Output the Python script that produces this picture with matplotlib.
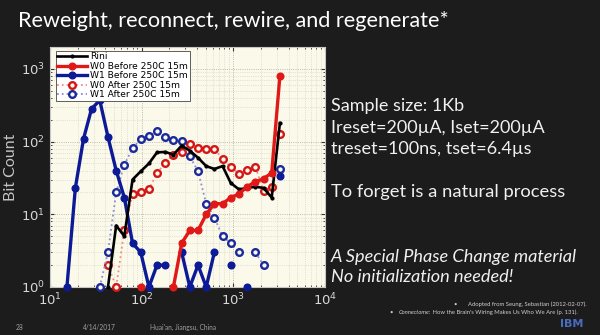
import numpy as np
import matplotlib.pyplot as plt

nan = np.nan

# resistance bins
bins = [15.3, 18.9, 23.2, 28.4, 34.9, 42.9, 52.7, 64.7, 79.5, 97.7,
        120, 147, 181, 222, 273, 335, 412, 506, 621, 763,
        937, 1151, 1415, 1738, 2134, 2621, 3220]

# bit counts per bin, nan where the count is zero (gap on log axis)
rini = [nan, nan, nan, nan, nan, 1, 7, 5, 30, 39,
        50, 71, 72, 66, 88, 75, 60, 46, 42, 46,
        27, 22, 23, 24, 23, 17, 180]
w0_before = [nan, nan, nan, nan, nan, nan, nan, nan, nan, 1,
             nan, nan, nan, 1, 4, 6, 6, 10, 14, 14,
             17, 19, 24, 28, 31, 37, 800]
w1_before = [1, 23, 109, 282, 370, 116, 40, 17, 4, 3,
             1, 2, 2, nan, 3, 1, 2, 1, 3, nan,
             2, nan, 1, nan, nan, nan, 34]
w0_after = [nan, nan, nan, nan, nan, 2, 1, 6, 19, 20,
            22, 37, 51, 66, 71, 94, 82, 80, 79, 58,
            45, 36, 41, 45, 21, 24, 128]
w1_after = [nan, nan, nan, nan, 1, 3, 20, 48, 81, 108,
            118, 142, 117, 105, 102, 63, 39, 14, 9, 5,
            4, 3, nan, 3, 2, nan, 42]

series_labels = ['Rini', 'W0 Before 250C 15m', 'W1 Before 250C 15m',
                 'W0 After 250C 15m', 'W1 After 250C 15m']

title = 'Reweight, reconnect, rewire, and regenerate*'
side_lines = ['Sample size: 1Kb', 'Ireset=200µA, Iset=200µA', 'treset=100ns, tset=6.4µs']
side_note = 'To forget is a natural process'
side_italic = ['A Special Phase Change material', 'No initialization needed!']

BG = '#1c1c1c'
PLOT_BG = '#fbf9ea'
W, H = 600, 335


def fx(x):
    return x / W


def fy(y):
    return 1 - y / H


fig = plt.figure(figsize=(6, 3.35), dpi=100, facecolor=BG)

ax = fig.add_axes([fx(50), fy(287), 275 / W, 240 / H])
ax.set_facecolor(PLOT_BG)

ax.plot(bins, rini, '-', color='black', lw=1.9, marker='.', ms=4,
        label=series_labels[0], zorder=5, clip_on=False)
ax.plot(bins, w0_before, '-', color='#e01818', lw=2.4, marker='o', ms=4.8,
        mec='#e01818', label=series_labels[1], zorder=6, clip_on=False)
ax.plot(bins, w1_before, '-', color='#0c1a96', lw=2.4, marker='o', ms=4.8,
        mec='#0c1a96', label=series_labels[2], zorder=4, clip_on=False)
ax.plot(bins, w0_after, ':', color='#f08a8a', lw=1.3, marker='o', ms=4.8,
        mfc=PLOT_BG, mec='#d41616', mew=1.7, label=series_labels[3], zorder=3, clip_on=False)
ax.plot(bins, w1_after, ':', color='#8c8cd8', lw=1.3, marker='o', ms=4.8,
        mfc=PLOT_BG, mec='#1a2a9c', mew=1.7, label=series_labels[4], zorder=3, clip_on=False)

ax.set_xscale('log')
ax.set_yscale('log')
ax.set_xlim(10, 1e4)
ax.set_ylim(1, 2000)

ax.grid(which='major', linestyle=':', color='#a8a898', linewidth=0.6)
ax.grid(which='minor', linestyle=':', color='#cfcdb8', linewidth=0.5)
ax.tick_params(which='both', direction='in', top=True, right=True, color='#333333',
               labelcolor='#d8d8d8', labelsize=9.5)
ax.tick_params(which='major', length=3)
ax.tick_params(which='minor', length=1.5)
for s in ax.spines.values():
    s.set_color('#c8c8c8')
    s.set_linewidth(0.8)

ax.set_ylabel('Bit Count', family='Lato', fontsize=11.5, color='#c4c4c4', labelpad=2)

leg = ax.legend(loc='upper left', bbox_to_anchor=(0.02, 0.985), borderaxespad=0,
                fontsize=6.6, handlelength=3.2, labelspacing=0.05, borderpad=0.2,
                handletextpad=0.4, fancybox=False, framealpha=1, edgecolor='#444444')
leg.get_frame().set_linewidth(0.6)

# slide text
fig.text(fx(18), fy(27), title, family='Lato', fontsize=15.6, color='white', va='baseline')

for txt, y in zip(side_lines, [111, 133, 154]):
    fig.text(fx(331), fy(y), txt, family='Lato', fontsize=13, color='#f0f0f0', va='baseline')
fig.text(fx(331), fy(197), side_note, family='Lato', fontsize=13.2, color='#f0f0f0', va='baseline')
for txt, y in zip(side_italic, [262, 282]):
    fig.text(fx(331), fy(y), txt, family='Lato', style='italic', fontsize=13.1,
             color='#f0f0f0', va='baseline')

# footer
foot = dict(family='Lato', fontsize=4.8, color='#a0a0a0', va='center', ha='center')
fig.text(fx(20), fy(327), '28', **foot)
fig.text(fx(99), fy(327), '4/14/2017', **foot)
fig.text(fx(183), fy(327), "Huai'an, Jiangsu, China", **foot)

ref = dict(family='Lato', fontsize=4.2, color='#d0d0d0', va='center')
fig.text(fx(453), fy(304), '•', **ref)
fig.text(fx(587), fy(304), 'Adopted from Seung, Sebastian (2012-02-07).', ha='right', **ref)
fig.text(fx(389), fy(312), '•', **ref)
t_it = fig.text(fx(399), fy(312), 'Connectome:', style='italic', **ref)
fig.canvas.draw()
bb = t_it.get_window_extent()
fig.text(bb.x1 / fig.bbox.width, fy(312), " How the Brain's Wiring Makes Us Who We Are (p. 131).", **ref)

fig.text(fx(572), fy(324), 'IBM', family='DejaVu Sans', fontsize=8, fontweight='bold',
         color='#4a6cc0', ha='center', va='center')

fig.savefig('out.png', dpi=100, facecolor=BG)
